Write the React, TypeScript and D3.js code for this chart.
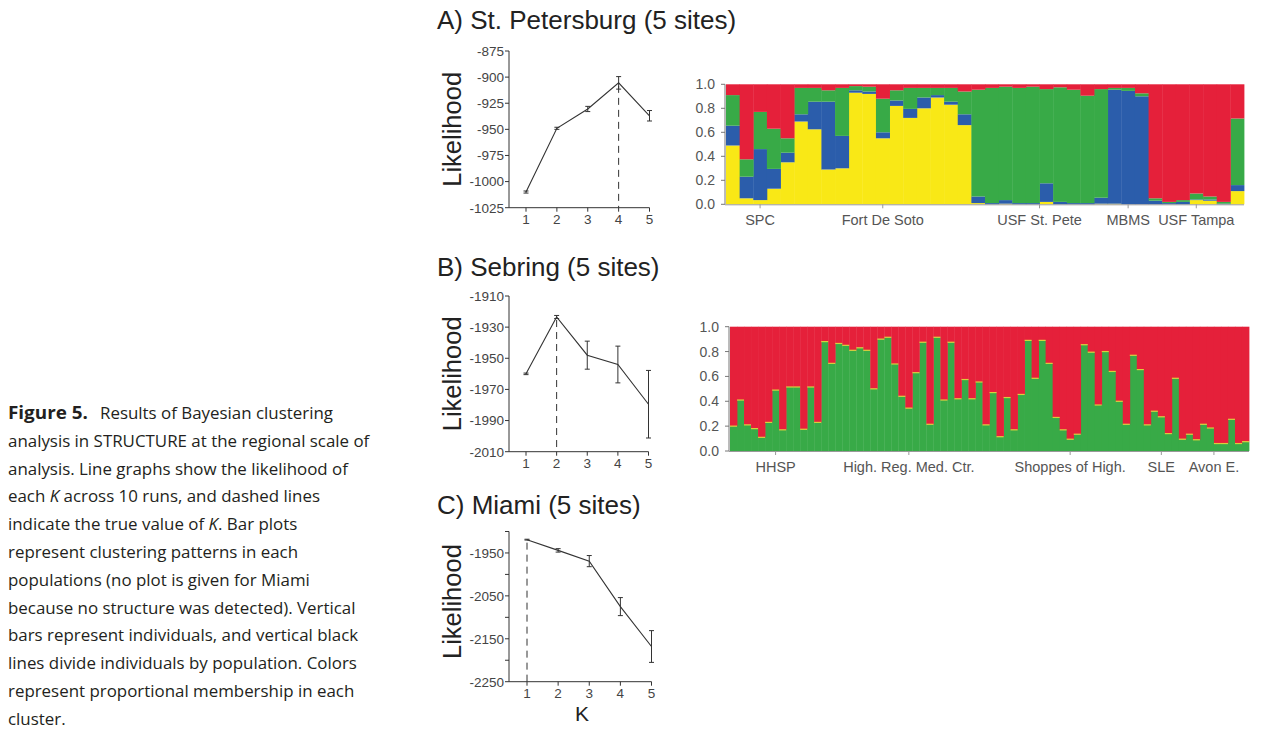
import React from "react";
import * as d3 from "d3";

// likelihood per K (mean over 10 runs) and error bars
const kValues = [1, 2, 3, 4, 5];
const stPeteLikelihood = [-1010, -949, -930.5, -905.5, -937];
const stPeteError = [1, 1, 2.5, 6, 5];
const sebringLikelihood = [-1960, -1923.5, -1948, -1954, -1979.5];
const sebringError = [0.5, 1, 9, 11.8, 21.7];
const miamiLikelihood = [-1919, -1944, -1969, -2075, -2168];
const miamiError = [1, 4, 13, 21, 37];

// St. Petersburg STRUCTURE memberships (red = remainder)
const stPeteSites = ["SPC", "Fort De Soto", "USF St. Pete", "MBMS", "USF Tampa"];
const stPeteSiteSizes = [5, 13, 10, 3, 7];
const stPeteYellow = [
  0.49, 0.05, 0.035, 0.13, 0.35,
  0.69, 0.625, 0.29, 0.3, 0.93, 0.92, 0.55, 0.82, 0.72, 0.8, 0.89, 0.83, 0.66,
  0.01, 0, 0.005, 0, 0, 0.02, 0, 0, 0, 0.005,
  0.005, 0, 0,
  0, 0, 0, 0.035, 0.03, 0, 0.11,
];
const stPeteBlue = [
  0.165, 0.18, 0.425, 0.165, 0.08,
  0.06, 0.23, 0.565, 0.27, 0.02, 0.02, 0.05, 0.045, 0.075, 0.09, 0.02, 0.025, 0.09,
  0.055, 0.01, 0.03, 0.01, 0.01, 0.155, 0.02, 0.01, 0.01, 0.05,
  0.95, 0.945, 0.9,
  0.03, 0.01, 0.02, 0.005, 0.01, 0.005, 0.05,
];
const stPeteGreen = [
  0.255, 0.145, 0.31, 0.335, 0.12,
  0.22, 0.115, 0.095, 0.4, 0.035, 0.04, 0.28, 0.085, 0.175, 0.08, 0.06, 0.115, 0.19,
  0.89, 0.96, 0.945, 0.96, 0.97, 0.785, 0.955, 0.945, 0.895, 0.905,
  0.015, 0.025, 0.025,
  0.02, 0.01, 0.015, 0.05, 0.025, 0.015, 0.555,
];

// Sebring memberships (red = remainder)
const sebringSites = ["HHSP", "High. Reg. Med. Ctr.", "Shoppes of High.", "SLE", "Avon E."];
const sebringSiteSizes = [13, 25, 21, 5, 10];
const sebringGreen = [
  0.2, 0.41, 0.21, 0.18, 0.11, 0.23, 0.49, 0.17, 0.515, 0.515, 0.175, 0.515, 0.23,
  0.88, 0.705, 0.865, 0.85, 0.81, 0.83, 0.81, 0.5, 0.9, 0.915, 0.7, 0.44, 0.345,
  0.63, 0.875, 0.215, 0.915, 0.41, 0.875, 0.42, 0.575, 0.42, 0.555, 0.21, 0.47,
  0.115, 0.43, 0.17, 0.455, 0.89, 0.585, 0.89, 0.705, 0.27, 0.17, 0.095, 0.135,
  0.855, 0.795, 0.37, 0.8, 0.64, 0.4, 0.215, 0.77, 0.655,
  0.21, 0.32, 0.275, 0.14, 0.585,
  0.095, 0.135, 0.09, 0.215, 0.185, 0.06, 0.06, 0.255, 0.06, 0.075,
];

const captionLines = [
  "analysis in STRUCTURE at the regional scale of",
  "analysis. Line graphs show the likelihood of",
  null,
  null,
  "represent clustering patterns in each",
  "populations (no plot is given for Miami",
  "because no structure was detected). Vertical",
  "bars represent individuals, and vertical black",
  "lines divide individuals by population. Colors",
  "represent proportional membership in each",
  "cluster.",
];

const colors = { yellow: "#f9e816", blue: "#2b5dab", green: "#38aa47", red: "#e5203a" };
const font = "'Liberation Sans', Arial, Helvetica, sans-serif";
const ink = "#333";

const LineChart = ({ mean, err, yDomain, yRange, xRange, tickStep, labelStep, trueK, showK }) => {
  const x = d3.scaleLinear().domain([1, 5]).range(xRange);
  const y = d3.scaleLinear().domain(yDomain).range(yRange);
  const x0 = 509;
  const base = yRange[0];
  const ticks = d3.range(yDomain[0], yDomain[1] + 0.01, tickStep);
  const line = d3.line<number>().x((d, i) => x(kValues[i])).y((d) => y(d));
  return (
    <g fontFamily={font}>
      <path d={`M${x0},${yRange[1]}V${base}H${xRange[1]}`} fill="none" stroke={ink} />
      {ticks.map((t) => (
        <g key={t}>
          <line x1={x0 - 4} x2={x0} y1={y(t)} y2={y(t)} stroke={ink} />
          {(t - yDomain[0]) % labelStep === 0 && (
            <text x={x0 - 5} y={y(t)} dy="0.36em" textAnchor="end" fontSize={13.5} fill="#444">
              {t}
            </text>
          )}
        </g>
      ))}
      {kValues.map((k) => (
        <g key={k}>
          <line x1={x(k)} x2={x(k)} y1={base} y2={base + 4} stroke={ink} />
          <text x={x(k)} y={base + 16} textAnchor="middle" fontSize={13.5} fill="#444">
            {k}
          </text>
        </g>
      ))}
      <line
        x1={x(trueK)} x2={x(trueK)}
        y1={y(mean[trueK - 1]) + 3} y2={base}
        stroke={ink} strokeDasharray="7,5"
      />
      <path d={line(mean) || ""} fill="none" stroke={ink} strokeWidth={1.1} />
      {mean.map((m, i) => (
        <g key={i} stroke={ink}>
          <line x1={x(kValues[i])} x2={x(kValues[i])} y1={y(m - err[i])} y2={y(m + err[i])} />
          <line x1={x(kValues[i]) - 2.5} x2={x(kValues[i]) + 2.5} y1={y(m - err[i])} y2={y(m - err[i])} />
          <line x1={x(kValues[i]) - 2.5} x2={x(kValues[i]) + 2.5} y1={y(m + err[i])} y2={y(m + err[i])} />
        </g>
      ))}
      <text
        transform={`translate(461,${(yRange[0] + yRange[1]) / 2 + (showK ? -5 : 0)}) rotate(-90)`}
        textAnchor="middle" fontSize={25.5} fill="#222"
      >
        Likelihood
      </text>
      {showK && (
        <text x={582} y={721} textAnchor="middle" fontSize={21} fill="#222">K</text>
      )}
    </g>
  );
};

const BarPlot = ({ rows, keys, sites, sizes, xRange, yRange, edge }) => {
  const x = d3.scaleBand<number>().domain(d3.range(rows.length)).range(xRange).padding(0);
  const y = d3.scaleLinear().domain([0, 1]).range(yRange);
  const series = d3.stack().keys(keys)(rows);
  const bounds = d3.cumsum(sizes);
  const starts = [0, ...bounds.slice(0, -1)];
  const y0 = yRange[0];
  return (
    <g fontFamily={font}>
      {series.map((s) => (
        <g key={s.key} fill={colors[s.key]}>
          {s.map((d, i) => (
            <rect
              key={i}
              x={x(i)}
              y={y(d[1])}
              width={x.bandwidth() + 0.4}
              height={Math.max(0, y(d[0]) - y(d[1]))}
            />
          ))}
        </g>
      ))}
      {edge &&
        rows.map((r, i) => (
          <line
            key={i}
            x1={x(i)} x2={x(i) + x.bandwidth()}
            y1={y(r[edge])} y2={y(r[edge])}
            stroke="#d9cf3c" strokeWidth={1.2}
          />
        ))}
      {bounds.slice(0, -1).map((b) => (
        <line key={b} x1={x(b)} x2={x(b)} y1={yRange[1]} y2={y0} stroke="#3a3a3a" strokeOpacity={0.7} />
      ))}
      <line x1={xRange[0] - 1} x2={xRange[0] - 1} y1={yRange[1]} y2={y0} stroke="#777" />
      <line x1={xRange[0] - 1} x2={xRange[1]} y1={y0 + 0.5} y2={y0 + 0.5} stroke="#999" />
      {d3.range(0, 1.01, 0.2).map((t) => (
        <g key={t}>
          <line x1={xRange[0] - 5} x2={xRange[0] - 1} y1={y(t)} y2={y(t)} stroke="#777" />
          <text x={xRange[0] - 11} y={y(t)} dy="0.36em" textAnchor="end" fontSize={14} fill="#555">
            {d3.format(".1f")(t)}
          </text>
        </g>
      ))}
      {sites.map((name, j) => {
        const cx = (x(starts[j]) + x(bounds[j] - 1) + x.bandwidth()) / 2;
        return (
          <g key={name}>
            <line x1={cx} x2={cx} y1={y0} y2={y0 + 4} stroke="#999" />
            <text x={cx} y={y0 + 21} textAnchor="middle" fontSize={14.5} fill="#555">
              {name}
            </text>
          </g>
        );
      })}
    </g>
  );
};

export default function App() {
  const stPeteRows = stPeteYellow.map((v, i) => ({
    yellow: v,
    blue: stPeteBlue[i],
    green: stPeteGreen[i],
    red: Math.max(0, 1 - v - stPeteBlue[i] - stPeteGreen[i]),
  }));
  const sebringRows = sebringGreen.map((v) => ({ green: v, red: 1 - v }));
  const capFont = "'Open Sans', 'Noto Sans', sans-serif";
  const capX = 8;
  const capY0 = 419;
  const capStep = 27.8;

  return (
    <svg
      width={1268}
      height={730}
      style={{ position: "absolute", left: 0, top: 0, background: "#fff" }}
    >
      <g fontFamily={font} fontSize={26} fill="#222">
        <text x={437} y={29}>A) St. Petersburg (5 sites)</text>
        <text x={437} y={276}>B) Sebring (5 sites)</text>
        <text x={437} y={514}>C) Miami (5 sites)</text>
      </g>

      <LineChart
        mean={stPeteLikelihood} err={stPeteError}
        yDomain={[-1025, -875]} yRange={[207.7, 51]} xRange={[526, 649.5]}
        tickStep={25} labelStep={25} trueK={4} showK={false}
      />
      <LineChart
        mean={sebringLikelihood} err={sebringError}
        yDomain={[-2010, -1910]} yRange={[451.7, 296]} xRange={[526, 648.5]}
        tickStep={20} labelStep={20} trueK={2} showK={false}
      />
      <LineChart
        mean={miamiLikelihood} err={miamiError}
        yDomain={[-2250, -1900]} yRange={[681.7, 531.5]} xRange={[527, 651.5]}
        tickStep={50} labelStep={100} trueK={1} showK={true}
      />

      <BarPlot
        rows={stPeteRows} keys={["yellow", "blue", "green", "red"]}
        sites={stPeteSites} sizes={stPeteSiteSizes}
        xRange={[726, 1244]} yRange={[204.3, 84.3]} edge={null}
      />
      <BarPlot
        rows={sebringRows} keys={["green", "red"]}
        sites={sebringSites} sizes={sebringSiteSizes}
        xRange={[730, 1249]} yRange={[451, 326.7]} edge="green"
      />

      <g fontFamily={capFont} fontSize={16.9} fill="#231f20">
        <text x={capX} y={capY0}>
          <tspan fontWeight="bold" textLength={80} lengthAdjust="spacingAndGlyphs">Figure 5.</tspan>
          <tspan x={100}>Results of Bayesian clustering</tspan>
        </text>
        <text x={capX} y={capY0 + capStep * 3}>
          each <tspan fontStyle="italic">K</tspan> across 10 runs, and dashed lines
        </text>
        <text x={capX} y={capY0 + capStep * 4}>
          indicate the true value of <tspan fontStyle="italic">K</tspan>. Bar plots
        </text>
        {captionLines.map((l, i) =>
          l ? (
            <text key={i} x={capX} y={capY0 + capStep * (i + 1)}>
              {l}
            </text>
          ) : null
        )}
      </g>
    </svg>
  );
}
